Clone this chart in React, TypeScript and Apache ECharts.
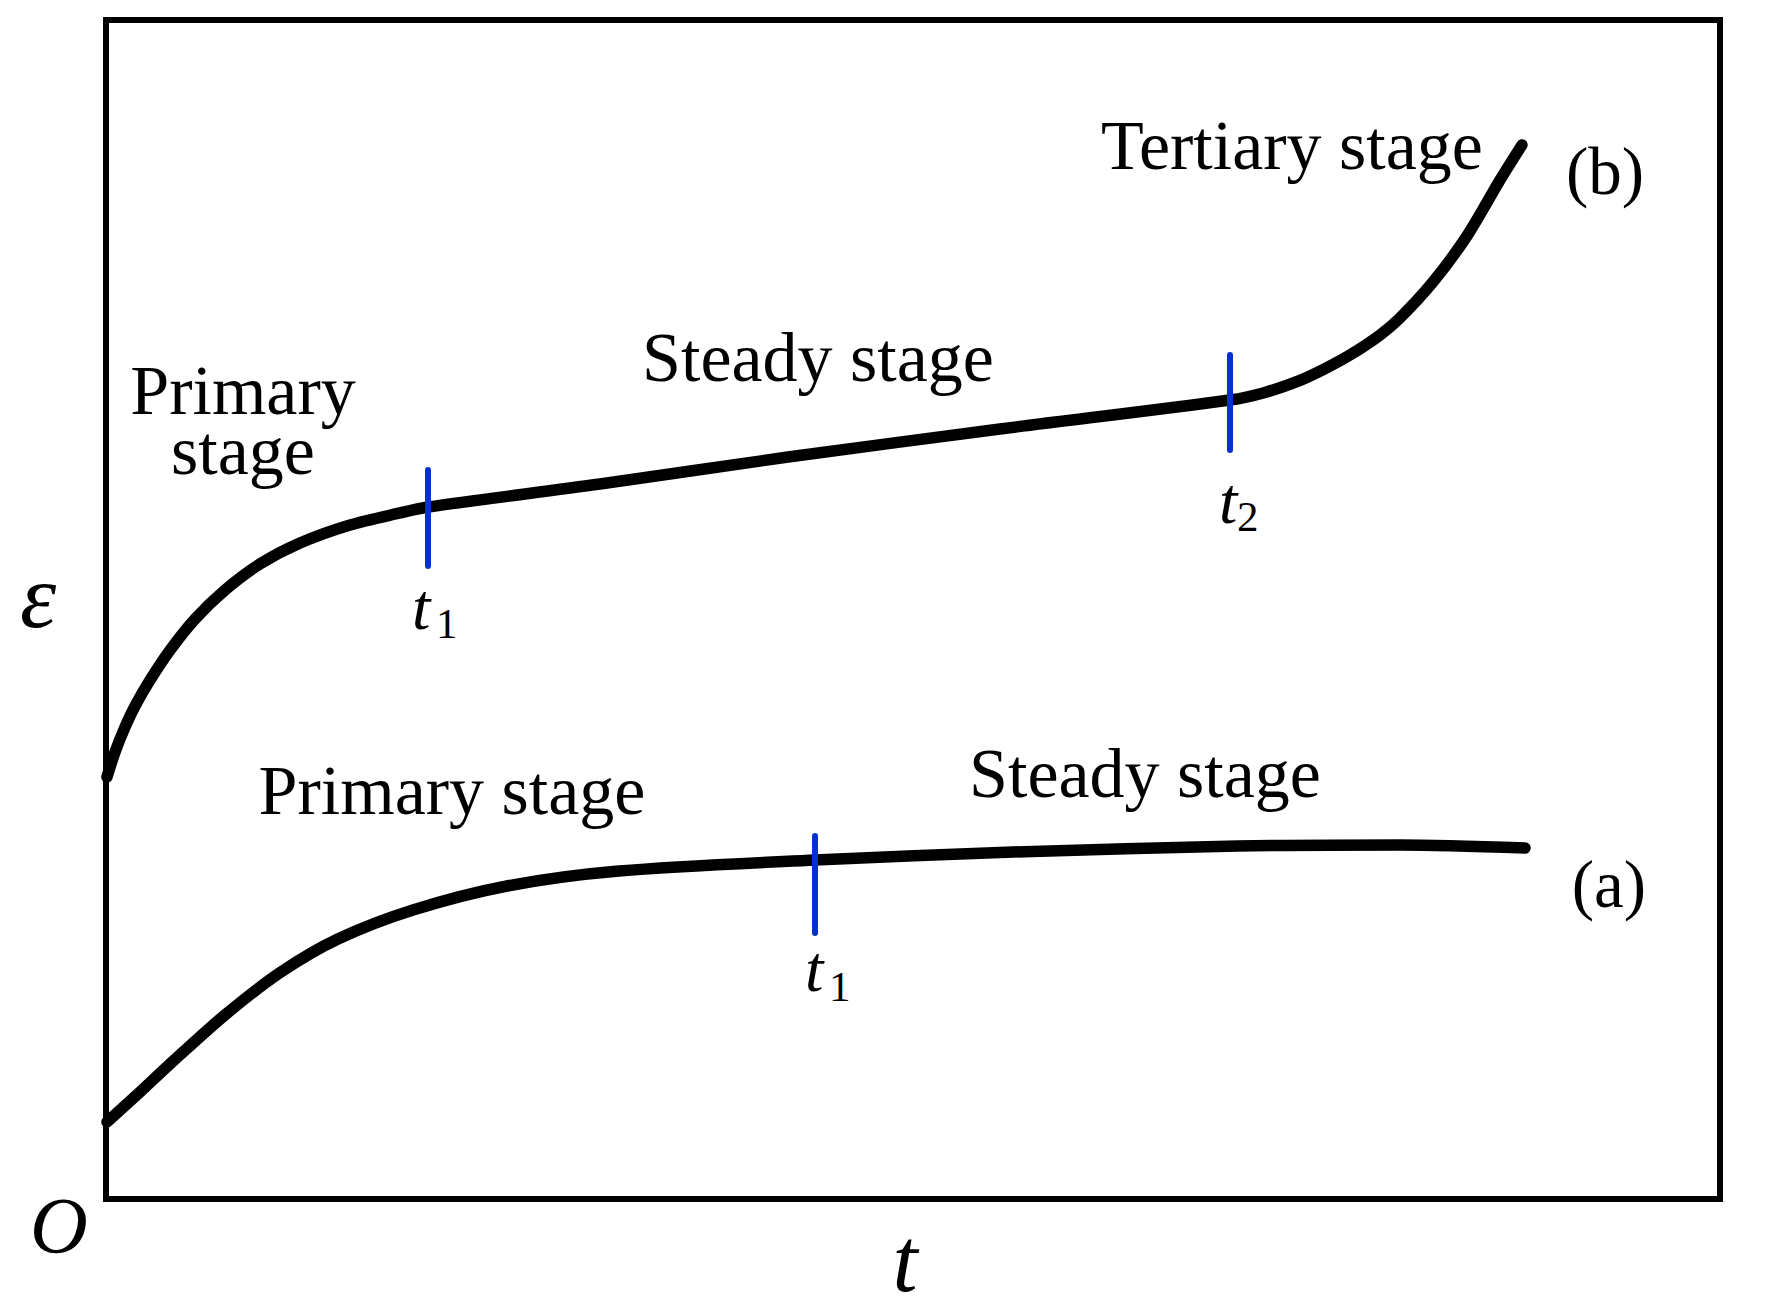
import React, { useEffect, useRef } from "react";
import * as echarts from "echarts";

// Creep curve (b): [t, strain] in normalized axis units (0-100)
const curveB: [number, number][] = [
  [0.06, 35.79], [0.56, 37.91], [1.18, 40.03], [1.8, 41.82], [2.73, 44.02],
  [3.97, 46.56], [5.51, 49.19], [7.37, 51.65], [9.54, 53.86], [12.02, 55.64],
  [15.12, 57.17], [18.22, 58.19], [19.95, 58.69], [30.61, 60.64], [42.26, 62.93],
  [55.39, 65.31], [69.64, 67.77], [71.81, 68.41], [73.98, 69.43], [75.53, 70.43],
  [77.08, 71.59], [78.93, 73.28], [80.17, 74.72], [82.22, 77.78], [84.32, 81.68],
  [86.37, 86.43], [87.73, 89.4],
];

// Creep curve (a)
const curveA: [number, number][] = [
  [0.06, 6.53], [2.11, 9.08], [3.9, 11.37], [7.37, 15.61], [10.84, 19.25],
  [14.37, 22.05], [19.02, 24.51], [24.85, 26.55], [31.78, 27.82], [43.93, 28.75],
  [56.2, 29.43], [70.14, 29.94], [80.17, 30.03], [87.92, 29.77],
];

// Stage boundary markers (vertical blue ticks): [t, yLow, yHigh]
const markersB: [number, number, number][] = [
  [19.95, 53.69, 61.83],
  [69.64, 63.53, 71.59],
];
const markersA: [number, number, number][] = [[43.93, 22.56, 30.79]];

const FONT = "'Liberation Serif', 'Times New Roman', serif";

export default function App() {
  const ref = useRef<HTMLDivElement>(null);
  useEffect(() => {
    if (!ref.current) return;
    const chart = echarts.init(ref.current, null, { renderer: "svg" });

    const markerSeries = [...markersB, ...markersA].map((m, i) => ({
      type: "line",
      name: "marker" + i,
      data: [[m[0], m[1]], [m[0], m[2]]],
      symbol: "none",
      z: 5,
      lineStyle: { color: "#0431D0", width: 6, cap: "round" },
      silent: true,
    }));

    const txt = (
      text: string,
      x: number,
      y: number,
      size: number,
      align: string = "center",
      italic = false,
      lineHeight?: number
    ) => ({
      type: "text",
      x,
      y,
      z: 10,
      style: {
        text,
        fill: "#000",
        font: `${italic ? "italic " : ""}${size}px ${FONT}`,
        align,
        verticalAlign: "middle",
        ...(lineHeight ? { lineHeight } : {}),
      },
    });

    const curveStyle = { color: "#000", width: 11.5, cap: "round", join: "round" };

    chart.setOption({
      animation: false,
      backgroundColor: "#fff",
      grid: {
        left: 106,
        top: 20,
        right: 45,
        bottom: 109,
        show: true,
        borderColor: "#000",
        borderWidth: 6,
        backgroundColor: "transparent",
      },
      xAxis: {
        type: "value",
        min: 0,
        max: 100,
        axisLine: { show: false },
        axisTick: { show: false },
        axisLabel: { show: false },
        splitLine: { show: false },
      },
      yAxis: {
        type: "value",
        min: 0,
        max: 100,
        axisLine: { show: false },
        axisTick: { show: false },
        axisLabel: { show: false },
        splitLine: { show: false },
      },
      series: [
        {
          type: "line",
          name: "(b)",
          data: curveB,
          smooth: 0.3,
          symbol: "none",
          z: 3,
          lineStyle: curveStyle,
        },
        {
          type: "line",
          name: "(a)",
          data: curveA,
          smooth: 0.3,
          symbol: "none",
          z: 3,
          lineStyle: curveStyle,
        },
        ...markerSeries,
      ],
      graphic: [
        txt("Tertiary stage", 1292, 145, 70),
        txt("(b)", 1605, 171, 67),
        txt("Steady stage", 818, 357, 70),
        txt("Primary\nstage", 243, 420, 70, "center", false, 60),
        txt("Primary stage", 452, 790, 70),
        txt("Steady stage", 1145, 773, 70),
        txt("(a)", 1609, 884, 67),
        txt("t", 412, 606, 66, "left", true),
        txt("1", 436, 623, 43, "left"),
        txt("t", 1219, 500, 66, "left", true),
        txt("2", 1237, 516, 43, "left"),
        txt("t", 805, 968, 66, "left", true),
        txt("1", 829, 986, 43, "left"),
        txt("ε", 38, 596, 92, "center", true),
        txt("O", 59, 1226, 80, "center", true),
        txt("t", 905, 1260, 90, "center", true),
      ],
    });
    return () => chart.dispose();
  }, []);
  return (
    <div
      ref={ref}
      style={{ position: "absolute", left: 0, top: 0, width: 1765, height: 1308 }}
    />
  );
}
